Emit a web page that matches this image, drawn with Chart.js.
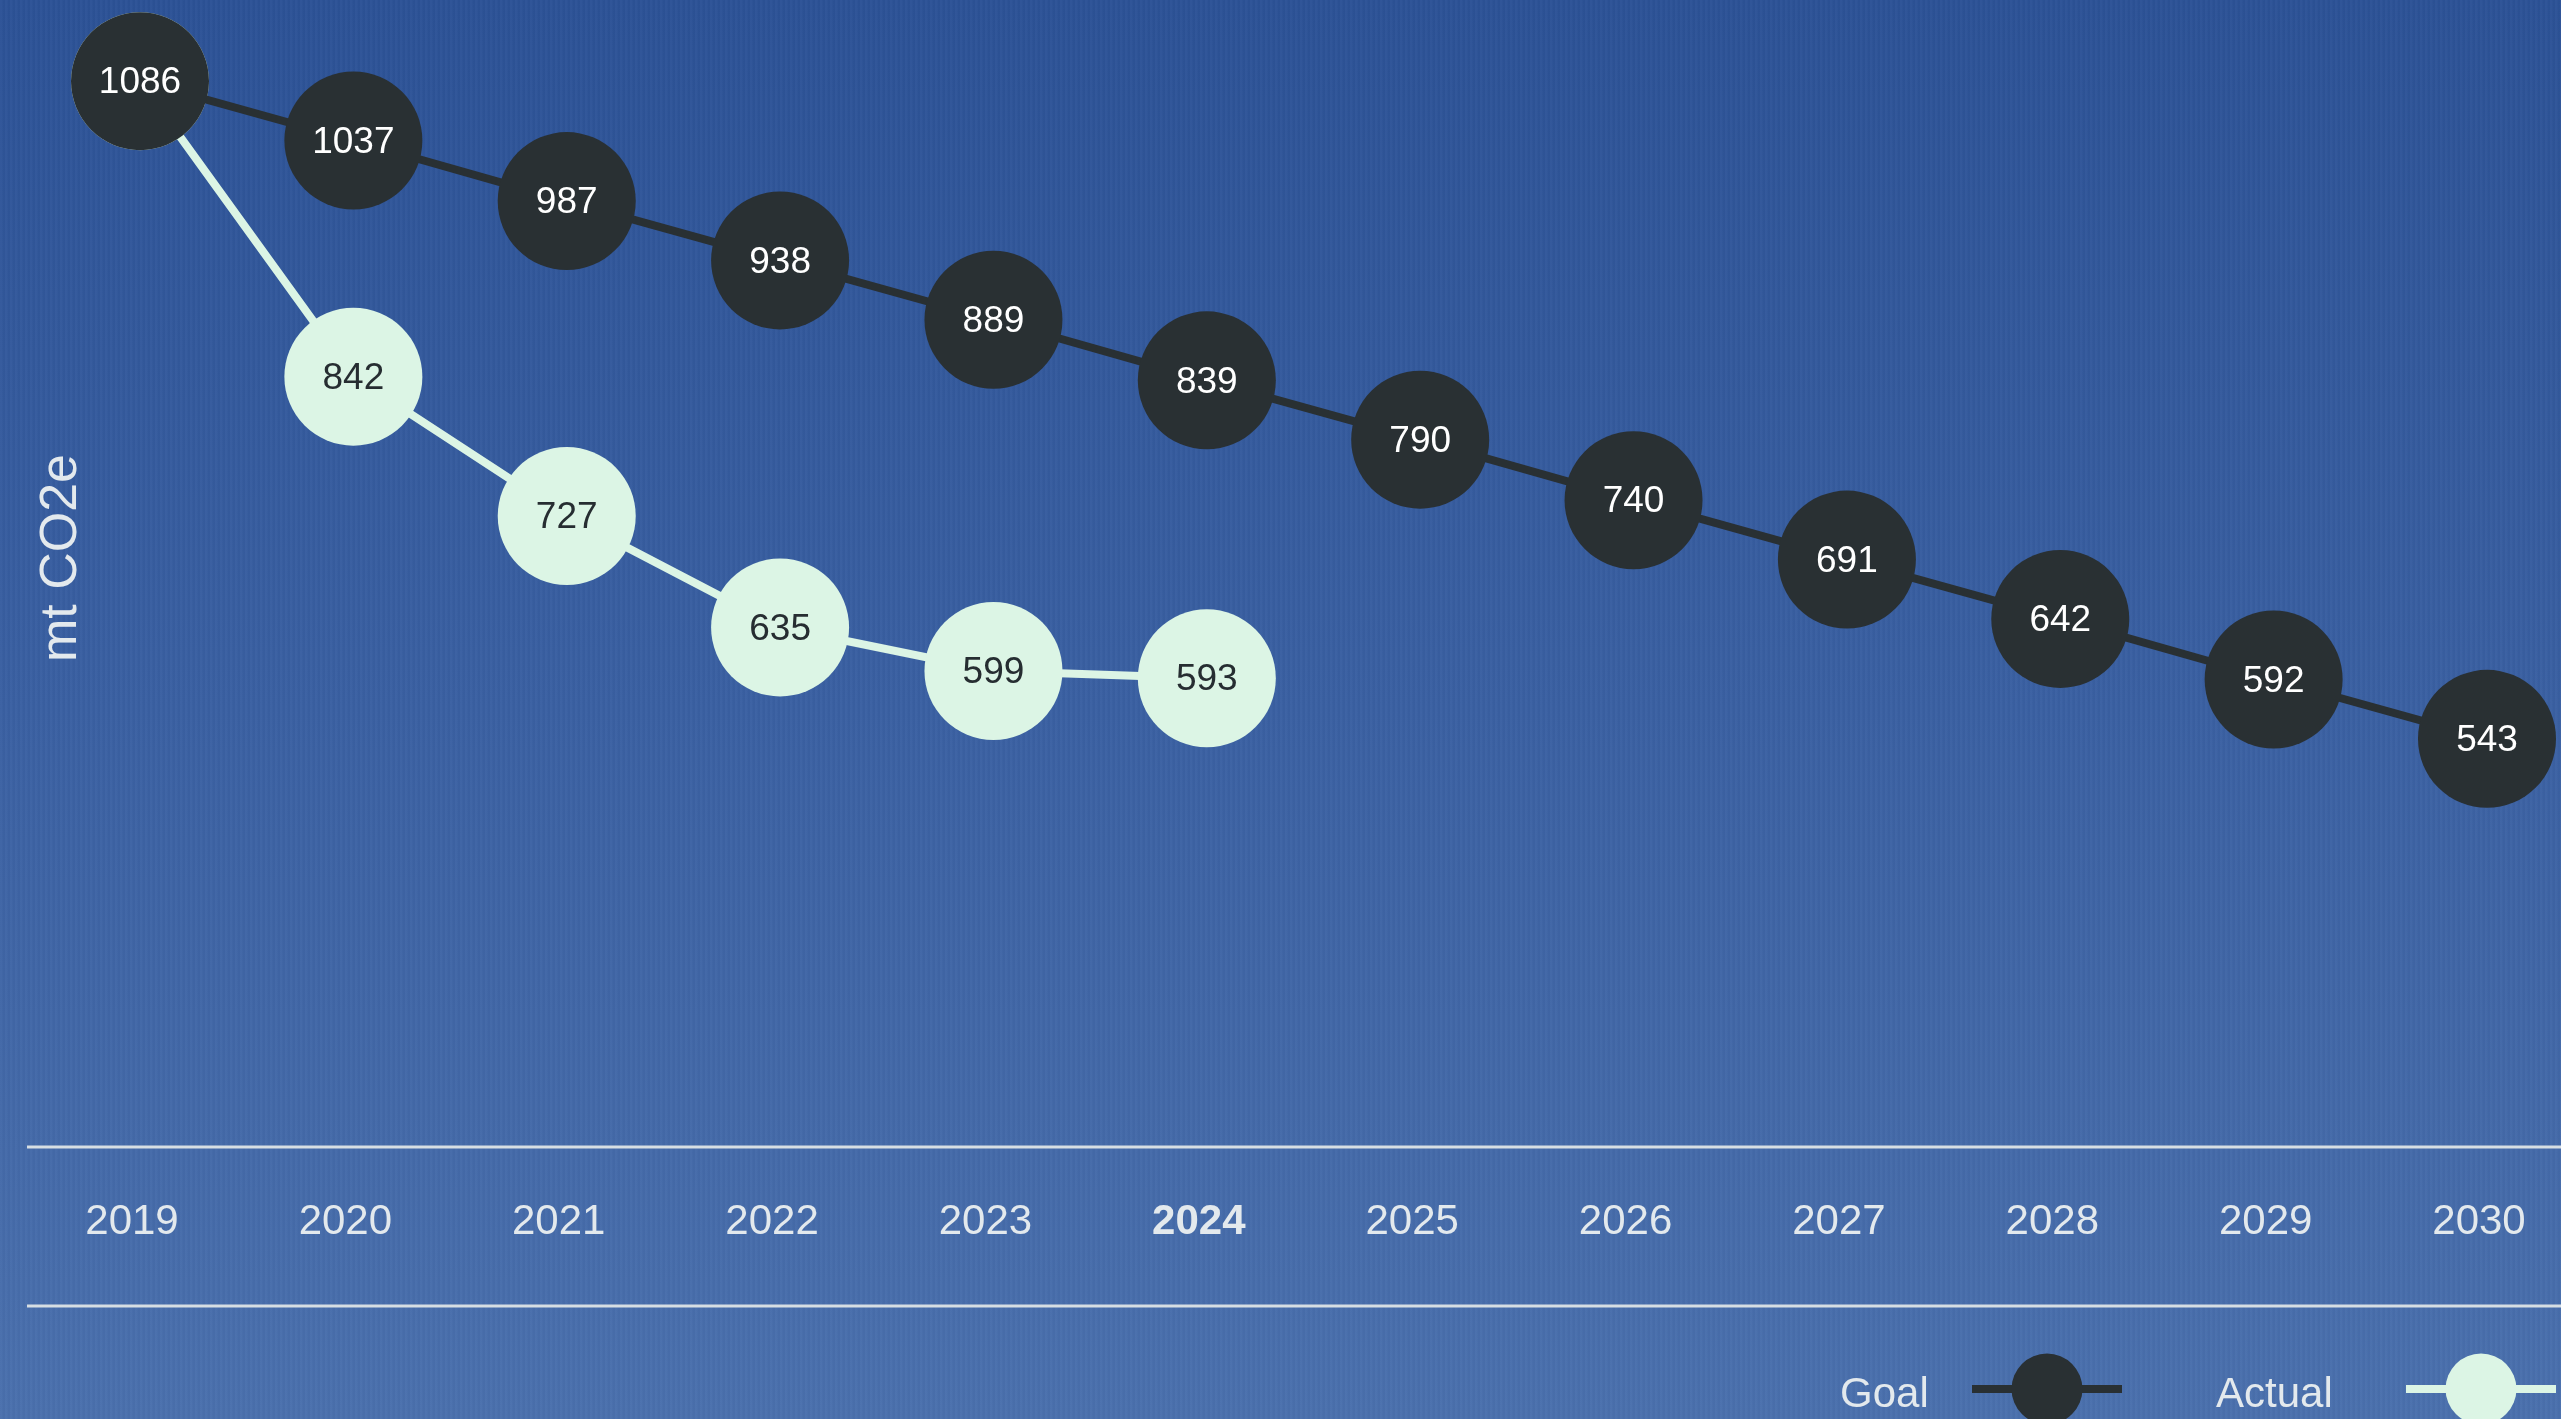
<!DOCTYPE html>
<html>
<head>
<meta charset="utf-8">
<script src="https://cdn.jsdelivr.net/npm/chart.js@4"></script>
<style>
  html, body { margin: 0; padding: 0; }
  body {
    width: 2561px; height: 1419px; overflow: hidden;
    background:
      repeating-linear-gradient(90deg, rgba(255,255,255,0.018) 0px, rgba(255,255,255,0.018) 2px, rgba(0,0,0,0.018) 3px, rgba(0,0,0,0.018) 5px),
      linear-gradient(to bottom, #2c5296 0%, #3a60a2 50%, #4a70ad 100%);
  }
  #wrap { position: relative; width: 2561px; height: 1419px; }
</style>
</head>
<body>
<div id="wrap"><canvas id="c"></canvas></div>
<script>
// ---- data ----
const years = ['2019','2020','2021','2022','2023','2024','2025','2026','2027','2028','2029','2030'];
const goalValues = [1086, 1037, 987, 938, 889, 839, 790, 740, 691, 642, 592, 543];
const actualValues = [1086, 842, 727, 635, 599, 593, null, null, null, null, null, null];
const seriesNames = ['Goal', 'Actual'];
const highlightYear = '2024';
const yAxisTitle = 'mt CO2e';

// ---- styles ----
const GOAL_COLOR = '#293033';
const ACTUAL_COLOR = '#dcf5e5';
const TEXT_LIGHT = '#e3e9ed';
const RULE_COLOR = '#d6dee3';
const FONT = '"Liberation Sans", Arial, Helvetica, sans-serif';

const pointLabels = {
  id: 'pointLabels',
  afterDatasetsDraw(chart) {
    const ctx = chart.ctx;
    ctx.save();
    ctx.font = '37px ' + FONT;
    ctx.textAlign = 'center';
    ctx.textBaseline = 'middle';
    for (let di = chart.data.datasets.length - 1; di >= 0; di--) {
      const ds = chart.data.datasets[di];
      const meta = chart.getDatasetMeta(di);
      meta.data.forEach((pt, i) => {
        const v = ds.data[i];
        if (v === null || v === undefined) return;
        if (di === 1 && goalValues[i] === v) return; // hidden beneath goal point
        ctx.fillStyle = di === 0 ? '#ffffff' : '#262d31';
        ctx.fillText(String(v), pt.x, pt.y + 2);
      });
    }
    ctx.restore();
  }
};

const decorations = {
  id: 'decorations',
  afterDraw(chart) {
    const ctx = chart.ctx;
    const xs = chart.scales.x;
    ctx.save();
    ctx.strokeStyle = RULE_COLOR;
    ctx.lineWidth = 3;
    ctx.beginPath();
    ctx.moveTo(27, xs.top); ctx.lineTo(chart.width, xs.top);
    ctx.moveTo(27, xs.bottom); ctx.lineTo(chart.width, xs.bottom);
    ctx.stroke();

    ctx.fillStyle = TEXT_LIGHT;
    ctx.font = '52px ' + FONT;
    ctx.textAlign = 'center';
    ctx.textBaseline = 'middle';
    ctx.translate(62, 558);
    ctx.rotate(-Math.PI / 2);
    ctx.fillText(yAxisTitle, 0, 0);
    ctx.restore();

    ctx.save();
    const legendY = 1389;
    const items = [
      { text: seriesNames[0], color: GOAL_COLOR, textX: 1840, lineX: 1972 },
      { text: seriesNames[1], color: ACTUAL_COLOR, textX: 2216, lineX: 2406 }
    ];
    items.forEach(it => {
      ctx.fillStyle = TEXT_LIGHT;
      ctx.font = '42px ' + FONT;
      ctx.textAlign = 'left';
      ctx.textBaseline = 'middle';
      ctx.fillText(it.text, it.textX, legendY + 6);
      ctx.strokeStyle = it.color;
      ctx.lineWidth = 8;
      ctx.beginPath();
      ctx.moveTo(it.lineX, legendY);
      ctx.lineTo(it.lineX + 150, legendY);
      ctx.stroke();
      ctx.fillStyle = it.color;
      ctx.beginPath();
      ctx.arc(it.lineX + 75, legendY, 35.5, 0, Math.PI * 2);
      ctx.fill();
    });
    ctx.restore();
  }
};

new Chart(document.getElementById('c'), {
  type: 'line',
  data: {
    labels: years,
    datasets: [
      {
        label: seriesNames[0],
        data: goalValues,
        borderColor: GOAL_COLOR,
        backgroundColor: GOAL_COLOR,
        borderWidth: 8,
        pointRadius: 69,
        pointHoverRadius: 69,
        pointBorderWidth: 0,
        pointBackgroundColor: GOAL_COLOR,
        tension: 0,
        clip: false
      },
      {
        label: seriesNames[1],
        data: actualValues,
        borderColor: ACTUAL_COLOR,
        backgroundColor: ACTUAL_COLOR,
        borderWidth: 8,
        pointRadius: 69,
        pointHoverRadius: 69,
        pointBorderWidth: 0,
        pointBackgroundColor: ACTUAL_COLOR,
        tension: 0,
        spanGaps: false,
        clip: false
      }
    ]
  },
  options: {
    responsive: true,
    maintainAspectRatio: false,
    animation: false,
    events: [],
    layout: { autoPadding: false, padding: { left: 140, right: 74, top: 0, bottom: 113 } },
    plugins: {
      legend: { display: false },
      tooltip: { enabled: false }
    },
    scales: {
      y: {
        display: false,
        min: 206,
        max: 1153
      },
      x: {
        grid: { display: false, drawTicks: false },
        border: { display: false },
        ticks: {
          color: TEXT_LIGHT,
          padding: 50,
          labelOffset: -8,
          autoSkip: false,
          maxRotation: 0,
          font: (c) => ({
            family: FONT,
            size: 42,
            weight: (c.tick && c.tick.label === highlightYear) ? 'bold' : 'normal'
          })
        },
        afterFit: (scale) => { scale.height = 159; scale.paddingLeft = 0; scale.paddingRight = 0; }
      }
    }
  },
  plugins: [pointLabels, decorations]
});
</script>
</body>
</html>
